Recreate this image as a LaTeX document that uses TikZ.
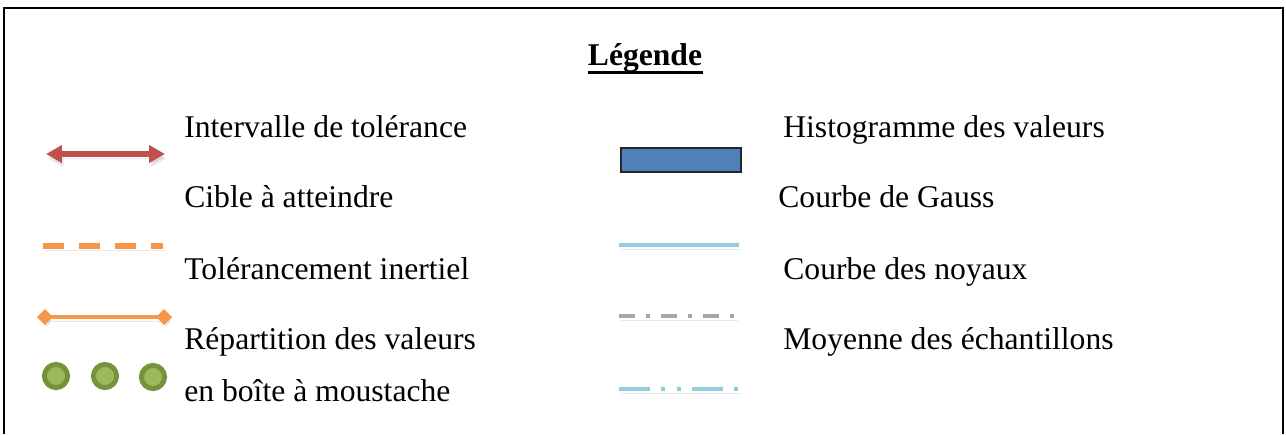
\documentclass[tikz,border=0pt]{standalone}
\usepackage{fontspec}
\setmainfont{Liberation Serif}
\usetikzlibrary{arrows.meta}

\definecolor{legred}{HTML}{C0504D}
\definecolor{legorange}{HTML}{F79646}
\definecolor{leggreen}{HTML}{9BBB59}
\definecolor{legolive}{HTML}{76923C}
\definecolor{legblue}{HTML}{4F81BD}
\definecolor{legsky}{HTML}{92CDDC}
\definecolor{leggray}{HTML}{A6A6A6}

\tikzset{
  legtext/.style={inner sep=0pt,anchor=base west,font=\fontsize{18}{22}\selectfont},
  shade/.style={preaction={draw=black!40,opacity=.22,transform canvas={xshift=1pt,yshift=-2.4pt}}}
}

\begin{document}
\begin{tikzpicture}[x=0.02cm,y=-0.02cm]
\useasboundingbox (0,0) rectangle (1286,434);
\draw[line width=1.2pt] (4,434)--(4,8)--(1283,8)--(1283,434);
% title
\node[legtext,anchor=base,font=\fontsize{18}{22}\selectfont\bfseries] (titre) at (645,65) {Légende};
\draw[line width=1.7pt] (588,72)--(703,72);
% left column
\node[legtext] (interv) at (184,137) {Intervalle de tolérance};
\node[legtext] (cible) at (184,207) {Cible à atteindre};
\node[legtext] (inert) at (184,279) {Tolérancement inertiel};
\node[legtext] (repart) at (184,349) {Répartition des valeurs};
\node[legtext] (boite) at (184,401) {en boîte à moustache};
\draw[shade,legred,line width=3pt,{Triangle[length=9pt,width=9.5pt]}-{Triangle[length=9pt,width=9.5pt]}] (46,154)--(165,154);
\draw[shade,legorange,line width=3pt,dash pattern=on 11.7pt off 8.8pt] (43,246)--(163,246);
\draw[shade,legorange,line width=2.7pt,{Diamond[length=9pt,width=9pt]}-{Diamond[length=9pt,width=9pt]}] (37,317)--(172,317);
\foreach \cx/\cy in {56/376,105/376,153/377}
  \draw[legolive,fill=leggreen,line width=2.8pt] (\cx,\cy) circle (11.6);
% right column
\node[legtext] (histo) at (783,137) {Histogramme des valeurs};
\node[legtext] (gauss) at (778,207) {Courbe de Gauss};
\node[legtext] (noyaux) at (783,279) {Courbe des noyaux};
\node[legtext] (moyenne) at (783,349) {Moyenne des échantillons};
\draw[fill=legblue,draw=black!85,line width=1pt] (621,148) rectangle (741,172);
\draw[shade,legsky,line width=2.6pt] (619,245)--(739,245);
\draw[shade,leggray,line width=2.5pt,dash pattern=on 8.9pt off 6.6pt on 2.3pt off 6.1pt] (619,316)--(736,316);
\draw[shade,legsky,line width=2.5pt,dash pattern=on 17.6pt off 6.3pt on 2.3pt off 6.6pt on 2.3pt off 6.4pt] (619,389)--(739,389);
\end{tikzpicture}
\end{document}
